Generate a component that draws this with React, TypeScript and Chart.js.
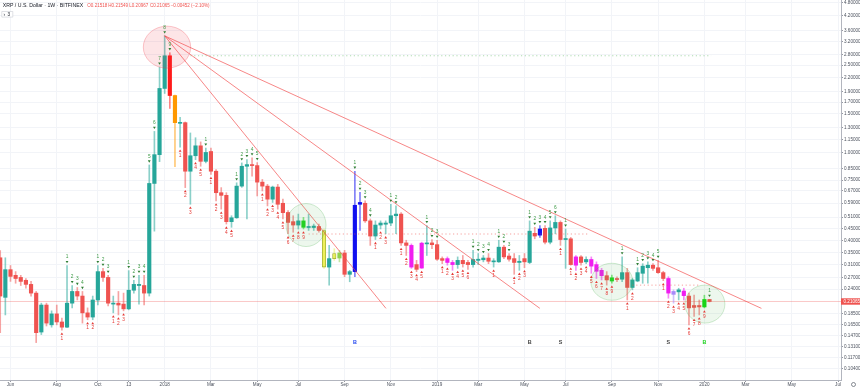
import React, { useEffect, useRef } from 'react';
import { Chart, registerables } from 'chart.js';

Chart.register(...registerables);

const FONT = '"Liberation Sans", Arial, sans-serif';

// Weekly candles, week index 0 = week of 2018-01-01
const firstWeek = -32;

const opens = [
  0.333, 0.220, 0.294, 0.277, 0.271, 0.263, 0.252, 0.230, 0.153, 0.203,
  0.165, 0.185, 0.170, 0.161, 0.207, 0.234, 0.223, 0.187, 0.179, 0.214,
  0.288, 0.271, 0.205, 0.207, 0.205, 0.195, 0.237, 0.249, 0.249, 0.230,
  0.725, 0.980, 1.96, 2.76, 1.82, 1.36, 1.37, 0.824, 0.969, 1.075,
  0.914, 1.013, 0.824, 0.658, 0.640, 0.486, 0.506, 0.705, 0.868, 0.883,
  0.874, 0.735, 0.705, 0.615, 0.698, 0.589, 0.535, 0.486, 0.469, 0.458,
  0.457, 0.457, 0.462, 0.443, 0.302, 0.330, 0.332, 0.350, 0.280, 0.288,
  0.583, 0.589, 0.490, 0.418, 0.469, 0.473, 0.479, 0.517, 0.526, 0.389,
  0.379, 0.310, 0.299, 0.385, 0.389, 0.382, 0.330, 0.330, 0.317, 0.310,
  0.324, 0.317, 0.310, 0.324, 0.326, 0.332, 0.319, 0.319, 0.372, 0.339,
  0.330, 0.317, 0.330, 0.317, 0.430, 0.422, 0.453, 0.392, 0.455, 0.482,
  0.403, 0.406, 0.308, 0.336, 0.319, 0.327, 0.310, 0.292, 0.276, 0.261,
  0.268, 0.266, 0.285, 0.244, 0.261, 0.283, 0.300, 0.308, 0.300, 0.285,
  0.268, 0.234, 0.233, 0.235, 0.223, 0.202, 0.202, 0.199, 0.21518,
];

const highs = [
  0.359, 0.333, 0.307, 0.288, 0.277, 0.268, 0.260, 0.234, 0.207, 0.207,
  0.191, 0.203, 0.177, 0.307, 0.249, 0.244, 0.234, 0.197, 0.223, 0.307,
  0.298, 0.277, 0.223, 0.234, 0.230, 0.291, 0.263, 0.277, 0.277, 0.880,
  1.25, 2.45, 3.40, 2.85, 1.83, 1.45, 1.38, 1.23, 1.17, 1.12,
  1.05, 1.05, 0.838, 0.694, 0.658, 0.517, 0.730, 0.899, 0.930, 0.948,
  0.902, 0.756, 0.718, 0.705, 0.718, 0.615, 0.545, 0.517, 0.526, 0.508,
  0.526, 0.474, 0.474, 0.450, 0.379, 0.366, 0.360, 0.360, 0.292, 0.824,
  0.660, 0.604, 0.500, 0.490, 0.490, 0.490, 0.583, 0.573, 0.535, 0.400,
  0.385, 0.324, 0.392, 0.466, 0.403, 0.400, 0.336, 0.336, 0.324, 0.336,
  0.341, 0.324, 0.360, 0.348, 0.341, 0.348, 0.330, 0.400, 0.379, 0.348,
  0.348, 0.341, 0.348, 0.490, 0.458, 0.466, 0.466, 0.490, 0.517, 0.490,
  0.450, 0.412, 0.341, 0.341, 0.336, 0.336, 0.319, 0.298, 0.288, 0.278,
  0.273, 0.336, 0.298, 0.268, 0.300, 0.313, 0.319, 0.313, 0.324, 0.289,
  0.273, 0.238, 0.242, 0.242, 0.230, 0.225, 0.214, 0.225, 0.21549,
];

const lows = [
  0.152, 0.183, 0.260, 0.255, 0.249, 0.242, 0.223, 0.137, 0.149, 0.163,
  0.161, 0.165, 0.156, 0.160, 0.197, 0.214, 0.168, 0.174, 0.174, 0.203,
  0.260, 0.201, 0.187, 0.183, 0.191, 0.193, 0.230, 0.205, 0.203, 0.223,
  0.440, 0.911, 1.86, 1.59, 0.865, 1.06, 0.694, 0.583, 0.930, 0.868,
  0.899, 0.796, 0.604, 0.554, 0.474, 0.458, 0.503, 0.696, 0.500, 0.782,
  0.636, 0.670, 0.573, 0.594, 0.554, 0.500, 0.428, 0.435, 0.450, 0.450,
  0.443, 0.443, 0.435, 0.298, 0.250, 0.324, 0.319, 0.273, 0.259, 0.273,
  0.443, 0.482, 0.379, 0.403, 0.450, 0.428, 0.466, 0.428, 0.379, 0.341,
  0.298, 0.288, 0.298, 0.341, 0.366, 0.324, 0.313, 0.308, 0.292, 0.298,
  0.302, 0.295, 0.302, 0.310, 0.319, 0.313, 0.302, 0.317, 0.330, 0.321,
  0.280, 0.292, 0.300, 0.313, 0.406, 0.412, 0.385, 0.385, 0.428, 0.379,
  0.298, 0.308, 0.292, 0.308, 0.313, 0.283, 0.268, 0.264, 0.250, 0.255,
  0.259, 0.259, 0.214, 0.238, 0.259, 0.255, 0.255, 0.292, 0.283, 0.262,
  0.218, 0.207, 0.214, 0.214, 0.165, 0.180, 0.183, 0.197, 0.20967,
];

const closes = [
  0.223, 0.294, 0.274, 0.268, 0.260, 0.252, 0.230, 0.152, 0.203, 0.168,
  0.185, 0.170, 0.161, 0.207, 0.234, 0.223, 0.187, 0.179, 0.214, 0.288,
  0.271, 0.207, 0.207, 0.203, 0.195, 0.237, 0.252, 0.252, 0.230, 0.725,
  0.980, 1.96, 2.76, 1.82, 1.37, 1.37, 0.824, 0.969, 1.075, 0.914,
  1.003, 0.824, 0.658, 0.640, 0.486, 0.506, 0.705, 0.868, 0.883, 0.874,
  0.735, 0.705, 0.615, 0.698, 0.583, 0.534, 0.482, 0.469, 0.490, 0.490,
  0.462, 0.464, 0.443, 0.302, 0.330, 0.348, 0.350, 0.280, 0.288, 0.577,
  0.594, 0.490, 0.418, 0.469, 0.479, 0.479, 0.517, 0.526, 0.389, 0.379,
  0.302, 0.295, 0.388, 0.389, 0.382, 0.328, 0.324, 0.317, 0.310, 0.324,
  0.313, 0.310, 0.327, 0.328, 0.332, 0.321, 0.321, 0.372, 0.336, 0.328,
  0.317, 0.321, 0.319, 0.440, 0.418, 0.450, 0.392, 0.455, 0.482, 0.403,
  0.406, 0.310, 0.336, 0.317, 0.327, 0.305, 0.289, 0.276, 0.264, 0.270,
  0.265, 0.285, 0.244, 0.264, 0.285, 0.305, 0.308, 0.298, 0.285, 0.268,
  0.230, 0.227, 0.238, 0.224, 0.197, 0.198, 0.199, 0.2152, 0.21065,
];

const weeks = opens.map((_, i) => firstWeek + i);

// Bars recoloured by the indicator
const specialWeeks = [1, 2, 27, 31, 33, 34, 37, 38, 48, 50, 55, 56, 73, 80, 83, 84, 85, 87, 98, 99, 101, 105];
const specialFills = [
  '#ff1a1a', '#ff9800', '#1fd41f', '#eef05a', '#e6ee5c', '#8fd14f', '#1010f0', '#1010f0',
  '#f01df0', '#f01df0', '#f01df0', '#f01df0', '#1010f0', '#f01df0', '#f01df0', '#f01df0',
  '#f01df0', '#1fd41f', '#f01df0', '#a78bfa', '#f01df0', '#12d812',
];
const outlinedWeeks = [31, 33];

// TD sequential counts
const tdSellWeeks = [-19, -18, -17, -16, -13, -12, -11, -7, -6, -5, -4, -3, -2, -1, 0, 1, 8, 14, 15, 16, 17, 18, 37, 38, 39, 40, 44, 45, 51, 52, 53, 60, 61, 62, 63, 65, 66, 67, 71, 72, 73, 74, 75, 76, 78, 89, 92, 93, 94, 95, 96, 106];
const tdSellCounts = [1, 2, 3, 4, 1, 2, 3, 1, 2, 3, 4, 5, 6, 7, 8, 9, 1, 1, 2, 3, 4, 5, 1, 2, 3, 4, 1, 2, 1, 2, 3, 1, 2, 3, 4, 1, 2, 3, 1, 2, 3, 4, 5, 6, 1, 1, 1, 2, 3, 4, 5, 1];
const tdBuyWeeks = [-20, -15, -14, -10, -9, -8, 3, 4, 5, 6, 7, 9, 10, 11, 12, 13, 19, 20, 21, 22, 23, 24, 25, 26, 27, 41, 42, 43, 46, 47, 48, 49, 50, 54, 55, 56, 57, 58, 59, 64, 68, 69, 70, 77, 79, 80, 81, 82, 83, 84, 85, 86, 87, 90, 91, 97, 98, 99, 100, 101, 102, 103, 104, 105];
const tdBuyCounts = [1, 1, 2, 1, 2, 3, 1, 2, 3, 4, 5, 1, 2, 3, 4, 5, 1, 2, 3, 4, 5, 6, 7, 8, 9, 1, 2, 3, 1, 2, 3, 4, 5, 1, 2, 3, 4, 5, 6, 1, 1, 2, 3, 1, 1, 2, 3, 4, 5, 6, 7, 8, 9, 1, 2, 1, 2, 3, 4, 5, 6, 7, 8, 9];

// Buy / sell signal letters
const signalWeeks = [37, 71, 77, 98, 105];
const signalLetters = ['B', 'B', 'S', 'S', 'B'];
const signalColors = ['#2448f0', '#444444', '#444444', '#444444', '#1fd41f'];

// Trend lines from the top
const trendStartWeek = 0;
const trendStartPrice = 3.40;
const trendEndWeeks = [116.1, 73.0, 43.05];
const trendEndPrice = 0.196;

// Horizontal dotted levels
const levelPrices = [2.76, 0.427, 0.25];
const levelStartWeeks = [5, 28, 91];
const levelEndWeeks = [106.3, 82.5, 104];
const levelColors = ['rgba(76,175,80,0.45)', 'rgba(239,83,80,0.55)', 'rgba(239,83,80,0.55)'];

// Circles (centre in week / price)
const circleWeeks = [0.45, 27.5, 87.0, 105.1];
const circlePrices = [3.02, 0.469, 0.259, 0.205];
const circleKinds = ['red', 'green', 'green', 'green'];

// Axis ticks
const xTickWeeks = [-30, -21, -13, -7, 0, 9, 18, 26, 35, 44, 53, 61, 70, 78, 87, 96, 105, 113, 122, 131];
const xTickLabels = ['Jun', 'Aug', 'Oct', '13', '2018', 'Mar', 'May', 'Jul', 'Sep', 'Nov', '2019', 'Mar', 'May', 'Jul', 'Sep', 'Nov', '2020', 'Mar', 'May', 'Jul'];
const yTickValues = [4.8, 4.2, 3.6, 3.2, 2.8, 2.5, 2.2, 1.9, 1.7, 1.5, 1.3, 1.15, 1.0, 0.85, 0.75, 0.67, 0.59, 0.51, 0.45, 0.40, 0.35, 0.31, 0.27, 0.24, 0.185, 0.165, 0.147, 0.131, 0.117, 0.104];

const header = 'XRP / U.S. Dollar · 1W · BITFINEX';
const ohlcTexts = ['O0.21518', 'H0.21549', 'L0.20967', 'C0.21065', '−0.00452 (−2.10%)'];
const lastPrice = 0.21065;

const UP = '#26a69a';
const DOWN = '#ef5350';

function bodyColor(i: number): string {
  const w = weeks[i];
  const s = specialWeeks.indexOf(w);
  if (s >= 0) return specialFills[s];
  return closes[i] >= opens[i] ? UP : DOWN;
}

const overlayPlugin = {
  id: 'overlay',
  afterDatasetsDraw(chart: any) {
    const { ctx, chartArea, scales } = chart;
    const x = scales.x;
    const y = scales.y;
    ctx.save();
    ctx.beginPath();
    ctx.rect(chartArea.left, chartArea.top, chartArea.right - chartArea.left, chartArea.bottom - chartArea.top);
    ctx.clip();

    // circles
    const radX = [23.7, 20, 21, 20];
    const radY = [21, 21.5, 18.5, 19];
    circleWeeks.forEach((w, i) => {
      const cx = x.getPixelForValue(w);
      const cy = y.getPixelForValue(circlePrices[i]);
      ctx.beginPath();
      ctx.ellipse(cx, cy, radX[i], radY[i], 0, 0, Math.PI * 2);
      if (circleKinds[i] === 'red') {
        ctx.fillStyle = 'rgba(242,54,69,0.13)';
        ctx.strokeStyle = 'rgba(242,54,69,0.35)';
      } else {
        ctx.fillStyle = 'rgba(76,175,80,0.10)';
        ctx.strokeStyle = 'rgba(76,175,80,0.32)';
      }
      ctx.lineWidth = 0.8;
      ctx.fill();
      ctx.stroke();
    });

    // TD counts
    ctx.font = `4.8px ${FONT}`;
    ctx.textAlign = 'center';
    ctx.textBaseline = 'middle';
    tdSellWeeks.forEach((w, i) => {
      const j = w - firstWeek;
      const px = x.getPixelForValue(w);
      const py = y.getPixelForValue(highs[j]);
      ctx.fillStyle = '#2e7d32';
      ctx.beginPath();
      ctx.moveTo(px - 1.4, py - 4.6);
      ctx.lineTo(px + 1.4, py - 4.6);
      ctx.lineTo(px, py - 2.3);
      ctx.closePath();
      ctx.fill();
      ctx.fillStyle = '#3d9a46';
      ctx.fillText(String(tdSellCounts[i]), px, py - 8.4);
    });
    tdBuyWeeks.forEach((w, i) => {
      const j = w - firstWeek;
      const px = x.getPixelForValue(w);
      const py = y.getPixelForValue(lows[j]);
      ctx.fillStyle = '#e53935';
      ctx.beginPath();
      ctx.moveTo(px - 1.4, py + 4.6);
      ctx.lineTo(px + 1.4, py + 4.6);
      ctx.lineTo(px, py + 2.3);
      ctx.closePath();
      ctx.fill();
      ctx.fillText(String(tdBuyCounts[i]), px, py + 8.4);
    });

    // signal letters
    ctx.font = `bold 5.4px ${FONT}`;
    signalWeeks.forEach((w, i) => {
      ctx.fillStyle = signalColors[i];
      ctx.fillText(signalLetters[i], x.getPixelForValue(w), chartArea.bottom - 37);
    });
    ctx.restore();
  },
  afterDraw(chart: any) {
    const { ctx, chartArea, scales } = chart;
    const y = scales.y;
    ctx.save();
    // header
    ctx.textBaseline = 'middle';
    ctx.textAlign = 'left';
    ctx.fillStyle = '#131722';
    ctx.font = `5.2px ${FONT}`;
    ctx.fillText(header, 2.7, 5.8);
    ctx.fillStyle = '#ef5350';
    ctx.font = `4.55px ${FONT}`;
    const ohlcX = [87.3, 108.3, 129.3, 150, 170.7];
    ohlcTexts.forEach((t, i) => ctx.fillText(t, ohlcX[i], 5.8));
    // collapse button
    ctx.strokeStyle = '#c9ccd4';
    ctx.lineWidth = 0.6;
    ctx.fillStyle = '#ffffff';
    ctx.beginPath();
    ctx.rect(1.8, 11.5, 11, 5.6);
    ctx.fill();
    ctx.stroke();
    ctx.fillStyle = '#131722';
    ctx.font = `4.6px ${FONT}`;
    ctx.fillText('›  3', 3.5, 14.4);

    // last price label on the axis
    const py = y.getPixelForValue(lastPrice);
    ctx.fillStyle = '#ef5350';
    ctx.fillRect(chartArea.right, py - 3.2, 19, 6.4);
    ctx.fillStyle = '#ffffff';
    ctx.font = `4.6px ${FONT}`;
    ctx.fillText(lastPrice.toFixed(5), chartArea.right + 2.5, py + 0.2);

    // settings icon
    ctx.strokeStyle = '#555a66';
    ctx.lineWidth = 0.7;
    ctx.beginPath();
    ctx.arc(853.5, 384.5, 2, 0, Math.PI * 2);
    ctx.stroke();
    ctx.restore();
  },
};

export default function App() {
  const ref = useRef<HTMLCanvasElement>(null);

  useEffect(() => {
    const canvas = ref.current;
    if (!canvas) return;

    const bodyColors = weeks.map((_, i) => bodyColor(i));
    const wickColors = bodyColors.map((c) => c + '88');
    const borderColors = weeks.map((w, i) => (outlinedWeeks.includes(w) ? '#9fae34' : bodyColors[i]));
    const borderWidths = weeks.map((w) => (outlinedWeeks.includes(w) ? 0.8 : 0));

    const datasets: any[] = [];

    trendEndWeeks.forEach((w) => {
      datasets.push({
        type: 'line',
        data: [
          { x: trendStartWeek, y: trendStartPrice },
          { x: w, y: trendEndPrice },
        ],
        borderColor: 'rgba(242,70,70,0.72)',
        borderWidth: 0.9,
        pointRadius: 0,
        order: 0,
      });
    });

    levelPrices.forEach((p, i) => {
      datasets.push({
        type: 'line',
        data: [
          { x: levelStartWeeks[i], y: p },
          { x: levelEndWeeks[i], y: p },
        ],
        borderColor: levelColors[i],
        borderWidth: 1,
        borderDash: [1.2, 2.6],
        pointRadius: 0,
        order: 1,
      });
    });

    datasets.push({
      type: 'line',
      data: [
        { x: -40, y: lastPrice },
        { x: 140, y: lastPrice },
      ],
      borderColor: 'rgba(239,83,80,0.32)',
      borderWidth: 1,
      pointRadius: 0,
      order: 5,
    });

    datasets.push({
      type: 'bar',
      data: weeks.map((w, i) => ({ x: w, y: [opens[i], closes[i]] })),
      backgroundColor: bodyColors,
      borderColor: borderColors,
      borderWidth: borderWidths,
      borderSkipped: false,
      barThickness: 3.5,
      maxBarThickness: 3.5,
      barPercentage: 1,
      categoryPercentage: 1,
      minBarLength: 1,
      grouped: false,
      order: 2,
    });

    datasets.push({
      type: 'bar',
      data: weeks.map((w, i) => ({ x: w, y: [lows[i], highs[i]] })),
      backgroundColor: wickColors,
      borderWidth: 0,
      barThickness: 1,
      maxBarThickness: 1,
      barPercentage: 1,
      categoryPercentage: 1,
      minBarLength: 1,
      grouped: false,
      order: 3,
    });

    const chart = new Chart(canvas, {
      type: 'bar',
      data: { datasets },
      plugins: [overlayPlugin],
      options: {
        animation: false,
        responsive: false,
        devicePixelRatio: 1,
        maintainAspectRatio: false,
        layout: { padding: 0 },
        plugins: {
          legend: { display: false },
          tooltip: { enabled: false },
          title: { display: false },
        },
        scales: {
          x: {
            type: 'linear',
            position: 'bottom',
            offset: false,
            bounds: 'data',
            min: -32.04,
            max: 131.58,
            grid: { color: '#f2f4f8', tickLength: 2, tickColor: '#9598a1', offset: false },
            border: { display: true, color: '#b2b5be' },
            ticks: {
              autoSkip: false,
              maxRotation: 0,
              padding: 0,
              color: '#4c525e',
              font: { size: 4.6, family: FONT },
              callback: (_v: any, i: number) => xTickLabels[i],
            },
            afterBuildTicks: (scale: any) => {
              scale.ticks = xTickWeeks.map((v) => ({ value: v }));
            },
            afterFit: (scale: any) => {
              scale.height = 8;
              scale.paddingLeft = 0;
              scale.paddingRight = 0;
            },
          },
          y: {
            type: 'logarithmic',
            position: 'right',
            bounds: 'data',
            min: 0.0926,
            max: 4.948,
            grid: { color: '#f2f4f8', tickLength: 2, tickColor: '#9598a1' },
            border: { display: true, color: '#b2b5be' },
            ticks: {
              autoSkip: false,
              padding: 1,
              color: '#4c525e',
              font: { size: 4.6, family: FONT },
              callback: (v: any) => Number(v).toFixed(5),
            },
            afterBuildTicks: (scale: any) => {
              scale.ticks = yTickValues.map((v) => ({ value: v }));
            },
            afterFit: (scale: any) => {
              scale.width = 19;
              scale.paddingTop = 0;
              scale.paddingBottom = 0;
            },
          },
        },
      } as any,
    });

    return () => chart.destroy();
  }, []);

  return (
    <div style={{ position: 'absolute', left: 0, top: 0, width: 860, height: 388, background: '#ffffff' }}>
      <canvas ref={ref} width={860} height={388} style={{ display: 'block', width: 860, height: 388 }} />
    </div>
  );
}
